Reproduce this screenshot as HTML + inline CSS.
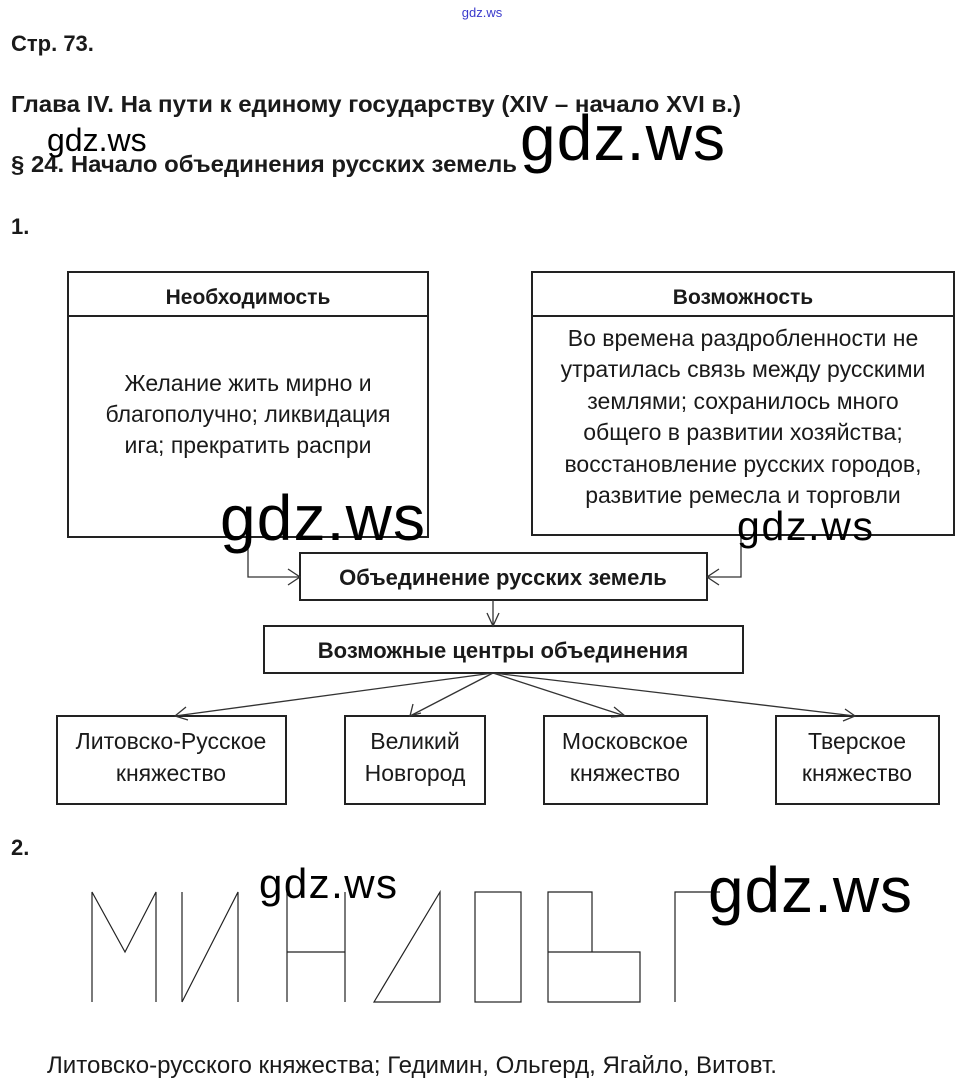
<!DOCTYPE html>
<html><head><meta charset="utf-8"><style>
html,body{margin:0;padding:0;background:#fff}
svg{display:block}
text{font-family:"Liberation Sans",Arial,sans-serif;fill:#1a1a1a}
.b{font-weight:bold}
.w{font-family:"Liberation Sans",sans-serif;fill:#000}
</style></head><body>
<svg width="963" height="1087" viewBox="0 0 963 1087" xmlns="http://www.w3.org/2000/svg">
<text x="482" y="17" font-size="13" text-anchor="middle" style="fill:#3a3acc">gdz.ws</text>
<g class="b" font-size="22">
<text x="11" y="51" class="b">Стр. 73.</text>
<text x="11" y="112" class="b" font-size="23" textLength="730" lengthAdjust="spacingAndGlyphs">Глава IV. На пути к единому государству (XIV – начало XVI в.)</text>
<text x="11" y="172" class="b" font-size="23" textLength="506" lengthAdjust="spacingAndGlyphs">§ 24. Начало объединения русских земель</text>
<text x="11" y="234" class="b">1.</text>
<text x="11" y="855" class="b">2.</text>
</g>
<g fill="none" stroke="#222" stroke-width="2">
<rect x="68" y="272" width="360" height="265"/><line x1="68" y1="316" x2="428" y2="316"/>
<rect x="532" y="272" width="422" height="263"/><line x1="532" y1="316" x2="954" y2="316"/>
<rect x="300" y="553" width="407" height="47"/>
<rect x="264" y="626" width="479" height="47"/>
<rect x="57" y="716" width="229" height="88"/>
<rect x="345" y="716" width="140" height="88"/>
<rect x="544" y="716" width="163" height="88"/>
<rect x="776" y="716" width="163" height="88"/>
</g>
<g fill="none" stroke="#333" stroke-width="1.3">
<polyline points="248,537 248,577 300,577"/><polyline points="288,569 300,577 288,585"/>
<polyline points="741,535 741,577 707,577"/><polyline points="719,569 707,577 719,585"/>
<line x1="493" y1="600" x2="493" y2="626"/><polyline points="487,613 493,626 499,613"/>
<line x1="493" y1="673" x2="175" y2="716"/><polyline points="186,707 175,716 188,720"/>
<line x1="493" y1="673" x2="410" y2="716"/><polyline points="413,704 410,716 421,713"/>
<line x1="493" y1="673" x2="625" y2="716"/><polyline points="614,707 625,716 611,717"/>
<line x1="493" y1="673" x2="855" y2="716"/><polyline points="845,709 855,716 843,721"/>
</g>
<g font-size="23" text-anchor="middle">
<text x="248" y="304" class="b" font-size="21">Необходимость</text>
<text x="743" y="304" class="b" font-size="21">Возможность</text>
<text x="248" y="391">Желание жить мирно и</text>
<text x="248" y="422">благополучно; ликвидация</text>
<text x="248" y="453">ига; прекратить распри</text>
<text x="743" y="346">Во времена раздробленности не</text>
<text x="743" y="377">утратилась связь между русскими</text>
<text x="743" y="409">землями; сохранилось много</text>
<text x="743" y="440">общего в развитии хозяйства;</text>
<text x="743" y="472">восстановление русских городов,</text>
<text x="743" y="503">развитие ремесла и торговли</text>
<text x="503" y="585" class="b" font-size="22">Объединение русских земель</text>
<text x="503" y="658" class="b" font-size="22">Возможные центры объединения</text>
<text x="171" y="749">Литовско-Русское</text><text x="171" y="781">княжество</text>
<text x="415" y="749">Великий</text><text x="415" y="781">Новгород</text>
<text x="625" y="749">Московское</text><text x="625" y="781">княжество</text>
<text x="857" y="749">Тверское</text><text x="857" y="781">княжество</text>
</g>
<g fill="none" stroke="#222" stroke-width="1.2">
<polyline points="92,1002 92,892 125,952 156,892 156,1002"/>
<polyline points="182,1002 182,892"/><polyline points="182,1002 238,892 238,1002"/>
<line x1="287" y1="892" x2="287" y2="1002"/><line x1="345" y1="892" x2="345" y2="1002"/><line x1="287" y1="952" x2="345" y2="952"/>
<polygon points="374,1002 440,892 440,1002"/>
<rect x="475" y="892" width="46" height="110"/>
<polyline points="592,952 592,892 548,892 548,1002 640,1002 640,952 548,952"/>
<polyline points="675,1002 675,892 720,892"/>
</g>
<text x="47" y="1073" font-size="24" textLength="730" lengthAdjust="spacingAndGlyphs">Литовско-русского княжества; Гедимин, Ольгерд, Ягайло, Витовт.</text>
<g class="w">
<text x="47" y="151" font-size="32" class="w">gdz.ws</text>
<text x="520" y="160" font-size="64" class="w" textLength="205">gdz.ws</text>
<text x="220" y="540" font-size="64" class="w" textLength="205">gdz.ws</text>
<text x="737" y="540" font-size="41" class="w" textLength="136">gdz.ws</text>
<text x="259" y="898" font-size="42" class="w" textLength="138">gdz.ws</text>
<text x="708" y="912" font-size="64" class="w" textLength="204">gdz.ws</text>
</g>
</svg>
</body></html>
